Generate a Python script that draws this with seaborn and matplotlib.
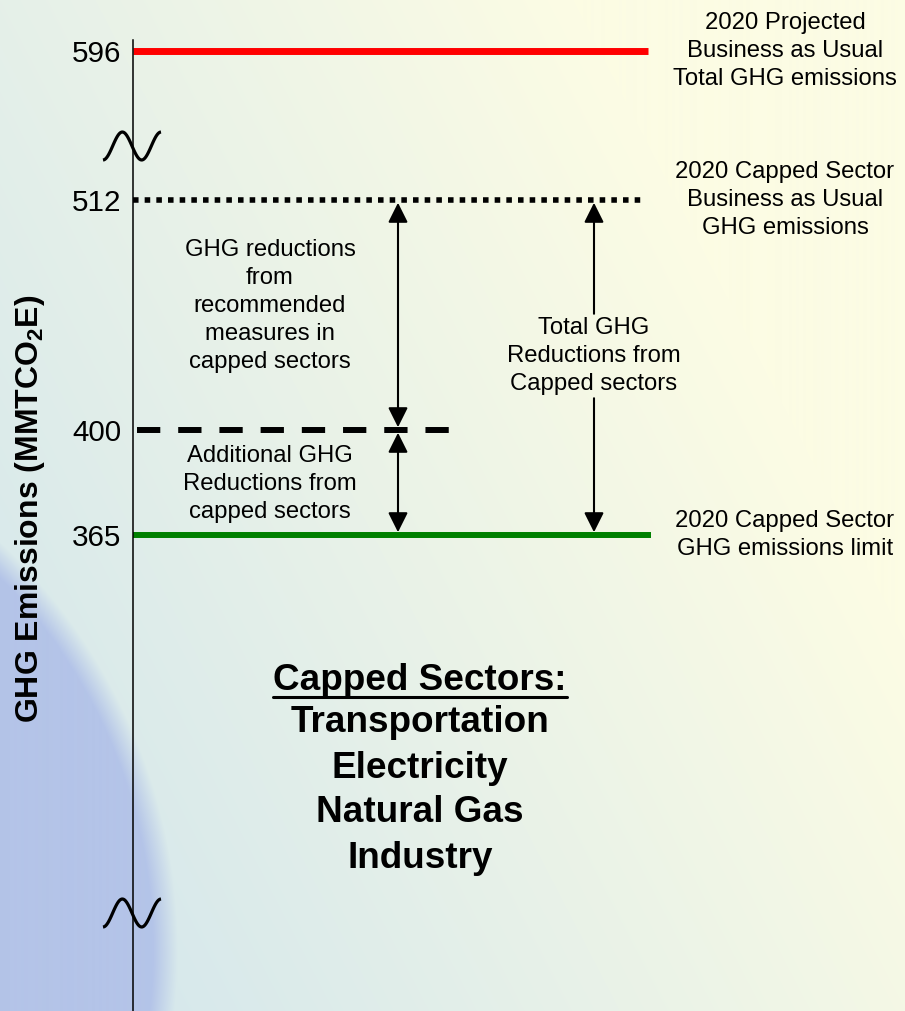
import numpy as np
import matplotlib
matplotlib.use("Agg")
import matplotlib.pyplot as plt
import seaborn as sns
from matplotlib.patches import ArrowStyle

# emission levels in MMTCO2E, top to bottom
levels = [596, 512, 400, 365]
level_labels = [
    "2020 Projected\nBusiness as Usual\nTotal GHG emissions",
    "2020 Capped Sector\nBusiness as Usual\nGHG emissions",
    "",
    "2020 Capped Sector\nGHG emissions limit",
]
level_colors = ["#ff0000", "black", "black", "#008000"]

reduction_labels = [
    "GHG reductions\nfrom\nrecommended\nmeasures in\ncapped sectors",
    "Additional GHG\nReductions from\ncapped sectors",
    "Total GHG\nReductions from\nCapped sectors",
]
sectors_title = "Capped Sectors:"
sectors = ["Transportation", "Electricity", "Natural Gas", "Industry"]
y_title = r"GHG Emissions (MMTCO$_\mathbf{2}$E)"

# ---- layout (pixels, origin top-left) ----
W, H = 905, 1011
# broken axis: value -> pixel row anchors
anchor_vals = [250, 365, 400, 512, 596, 620]
anchor_px = [1011, 535, 430, 200, 51, 0]
axis_x = 133
line_x = [(133, 648), (133, 645), (137, 455), (133, 651)]
line_w = [5, 4, 4.3, 4.3]
line_ls = ["-", (0, (1, 1.1)), (0, (3.9, 3.0)), "-"]
small = 17.2
spacing = 1.35


def fwd(v):
    return -np.interp(v, anchor_vals, anchor_px)


def inv(y):
    return np.interp(-np.asarray(y), anchor_px[::-1], anchor_vals[::-1])


sns.set_theme(style="white")
plt.rcParams["font.family"] = ["Liberation Sans", "DejaVu Sans"]
plt.rcParams["mathtext.fontset"] = "custom"
plt.rcParams["mathtext.rm"] = "Liberation Sans"
plt.rcParams["mathtext.bf"] = "Liberation Sans:bold"
plt.rcParams["text.color"] = "black"
plt.rcParams["ytick.color"] = "black"

fig = plt.figure(figsize=(W / 100, H / 100), dpi=100)

# background wash + globe at lower left
bg = fig.add_axes([0, 0, 1, 1], zorder=0)
yy, xx = np.mgrid[0:H, 0:W].astype(float)
u, v = xx / W, yy / H
w = np.clip(0.95 * u + 0.55 * (1 - v) - 0.15, 0, 1)[..., None]
cyan = np.array([214, 232, 236]) / 255
cream = np.array([252, 252, 228]) / 255
img = cyan * (1 - w) + cream * w
g = np.clip((545 - np.hypot(xx + 380, yy - 950)) / 25 + 0.5, 0, 1)[..., None]
blue = np.array([180, 196, 232]) / 255
img = img * (1 - g) + blue * g
bg.imshow(img, extent=[0, W, H, 0], aspect="auto")
bg.set_xlim(0, W)
bg.set_ylim(H, 0)
bg.axis("off")

ax = fig.add_axes([0, 0, 1, 1], zorder=1)
ax.patch.set_alpha(0)

for lvl, (x0, x1), col, lw, ls in zip(levels, line_x, level_colors, line_w, line_ls):
    sns.lineplot(x=[x0, x1], y=[lvl, lvl], color=col, linewidth=lw,
                 linestyle=ls, solid_capstyle="butt", ax=ax)

ax.set_yscale("function", functions=(fwd, inv))
ax.set_xlim(0, W)
ax.set_ylim(anchor_vals[0], anchor_vals[-1])
ax.set_xlabel("")
ax.set_ylabel("")
for s in ["top", "right", "bottom"]:
    ax.spines[s].set_visible(False)
ax.spines["left"].set_position(("data", axis_x))
ax.spines["left"].set_bounds(anchor_vals[0], float(inv(-40)))
ax.spines["left"].set_color("black")
ax.spines["left"].set_linewidth(1.1)
ax.set_xticks([])
ax.set_yticks(levels)
ax.set_yticklabels([str(l) for l in levels])
ax.tick_params(axis="y", length=0, pad=8.5, labelsize=21.3, labelcolor="black")

# level descriptions on the right
for lvl, lab in zip(levels, level_labels):
    if lab:
        ax.text(785, lvl, lab, ha="center", va="center", fontsize=small,
                linespacing=spacing, color="black")

# reduction arrows
head = ArrowStyle("<|-|>", head_length=0.6, head_width=0.3)
ap = dict(arrowstyle=head, mutation_scale=20, lw=1.5, color="black",
          shrinkA=2, shrinkB=2)
ax.annotate("", xy=(398, levels[1]), xytext=(398, levels[2]), arrowprops=ap)
ax.annotate("", xy=(398, levels[2]), xytext=(398, levels[3]), arrowprops=ap)

bg.text(270, 306, reduction_labels[0], ha="center", va="center",
        fontsize=small, linespacing=spacing, zorder=5)
bg.text(270, 484, reduction_labels[1], ha="center", va="center",
        fontsize=small, linespacing=spacing, zorder=5)

one = ArrowStyle("-|>", head_length=0.6, head_width=0.3)
for target, col in [(levels[1], "black"), (levels[3], "none")]:
    ax.annotate(reduction_labels[2], xy=(594, target), xytext=(594, 356),
                textcoords=bg.transData, ha="center", va="center",
                fontsize=small, linespacing=spacing, color=col,
                arrowprops=dict(arrowstyle=one, mutation_scale=20, lw=1.5,
                                color="black", shrinkA=0, shrinkB=2))

# axis break marks
s = np.linspace(0, 1, 60)
for cy in [146, 913]:
    bg.plot(103 + 58 * s, cy + 14 * np.cos(3 * np.pi * s), color="black",
            lw=2.3, solid_capstyle="butt", zorder=6)

# y title
fig.text(30 / W, 1 - 509 / H, y_title, rotation=90, ha="center", va="center",
         fontsize=23, fontweight="bold")

# capped sectors list
hdr = bg.text(420, 690, sectors_title, ha="center", va="baseline",
              fontsize=26.6, fontweight="bold", zorder=5)
for i, name in enumerate(sectors):
    bg.text(420, 723 + 45 * i, name, ha="center", va="center",
            fontsize=26.6, fontweight="bold", zorder=5)

fig.canvas.draw()
bb = hdr.get_window_extent()
bg.plot([bb.x0, bb.x1], [697, 697], color="black", lw=2.2, zorder=5)

fig.savefig("out.png", dpi=100)
